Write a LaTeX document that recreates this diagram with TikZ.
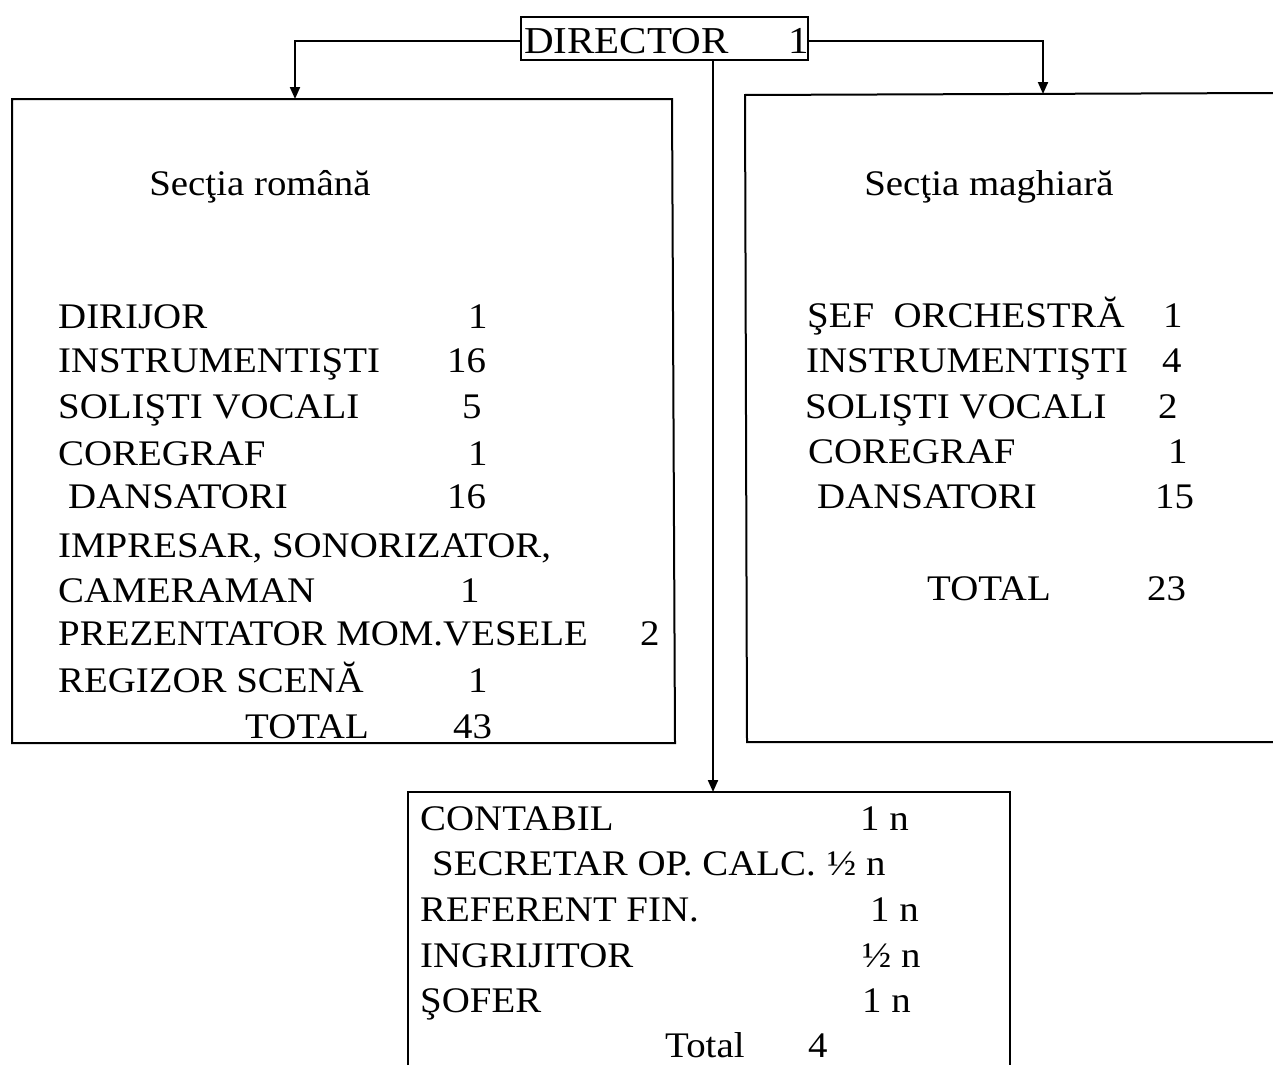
\documentclass[tikz,border=0pt]{standalone}
\usepackage{fontspec}
\setmainfont{Liberation Serif}[FakeStretch=1.08]
\usetikzlibrary{arrows.meta}
\begin{document}
\begin{tikzpicture}[x=1pt,y=-1pt,
  ln/.style={line width=2pt},
  arr/.style={ln,-{Triangle[length=12pt,width=10pt]}},
  txt/.style={anchor=base west,inner sep=0pt,font=\fontsize{36}{40}\selectfont},
  ctxt/.style={anchor=base,inner sep=0pt,font=\fontsize{36}{40}\selectfont},
  dirbox/.style={draw,line width=2pt,minimum width=287pt,minimum height=43pt,inner sep=0pt}]
\useasboundingbox (0,0) rectangle (1273,1065);
% director
\node[dirbox] (dir) at (664.5,38.5) {};
\node[txt,font=\fontsize{38}{40}\selectfont] (dirt) at (524,53) {DIRECTOR};
\node[txt,font=\fontsize{38}{40}\selectfont] (dirn) at (788,53) {1};
% box corners
\coordinate (ltop) at (295,99);
\coordinate (rtop) at (1043,94);
\coordinate (btop) at (713,792);
\draw[ln] (12,99) -- (672,99) -- (675,743) -- (12,743) -- cycle;
\draw[ln] (1273,93) -- (745,95) -- (747,742) -- (1273,742);
\draw[ln] (408,1065) -- (408,792) -- (1010,792) -- (1010,1065);
% connectors
\draw[arr] (dir.west |- 0,41) -| (ltop);
\draw[arr] (dir.east |- 0,41) -| (rtop);
\draw[arr] (dir.south -| btop) -- (btop);
% left box
\node[ctxt] (lt) at (260,195) {Secţia română};
\node[txt] (l1) at (58,328) {DIRIJOR};
\node[txt] (l1n) at (468,328) {1};
\node[txt] (l2) at (58,372) {INSTRUMENTIŞTI};
\node[txt] (l2n) at (447,372) {16};
\node[txt] (l3) at (58,418) {SOLIŞTI VOCALI};
\node[txt] (l3n) at (462,418) {5};
\node[txt] (l4) at (58,465) {COREGRAF};
\node[txt] (l4n) at (468,465) {1};
\node[txt] (l5) at (68,508) {DANSATORI};
\node[txt] (l5n) at (447,508) {16};
\node[txt] (l6) at (58,557) {IMPRESAR, SONORIZATOR,};
\node[txt] (l7) at (58,602) {CAMERAMAN};
\node[txt] (l7n) at (460,602) {1};
\node[txt] (l8) at (58,645) {PREZENTATOR MOM.VESELE};
\node[txt] (l8n) at (640,645) {2};
\node[txt] (l9) at (58,692) {REGIZOR SCENĂ};
\node[txt] (l9n) at (468,692) {1};
\node[txt] (lT) at (245,738) {TOTAL};
\node[txt] (lTn) at (453,738) {43};
% right box
\node[ctxt] (rt) at (989,195) {Secţia maghiară};
\node[txt] (r1) at (807,327) {ŞEF\ \ ORCHESTRĂ};
\node[txt] (r1n) at (1163,327) {1};
\node[txt] (r2) at (806,372) {INSTRUMENTIŞTI};
\node[txt] (r2n) at (1162,372) {4};
\node[txt] (r3) at (805,418) {SOLIŞTI VOCALI};
\node[txt] (r3n) at (1158,418) {2};
\node[txt] (r4) at (808,463) {COREGRAF};
\node[txt] (r4n) at (1168,463) {1};
\node[txt] (r5) at (817,508) {DANSATORI};
\node[txt] (r5n) at (1155,508) {15};
\node[txt] (rT) at (927,600) {TOTAL};
\node[txt] (rTn) at (1147,600) {23};
% bottom box
\node[txt] (b1) at (420,830) {CONTABIL};
\node[txt] (b1n) at (860,830) {1 n};
\node[txt] (b2) at (432,875) {SECRETAR OP. CALC.};
\node[txt] (b2n) at (827,875) {½ n};
\node[txt] (b3) at (420,921) {REFERENT FIN.};
\node[txt] (b3n) at (870,921) {1 n};
\node[txt] (b4) at (420,967) {INGRIJITOR};
\node[txt] (b4n) at (862,967) {½ n};
\node[txt] (b5) at (420,1012) {ŞOFER};
\node[txt] (b5n) at (862,1012) {1 n};
\node[txt] (bT) at (665,1057) {Total};
\node[txt] (bTn) at (808,1057) {4};
\end{tikzpicture}
\end{document}
